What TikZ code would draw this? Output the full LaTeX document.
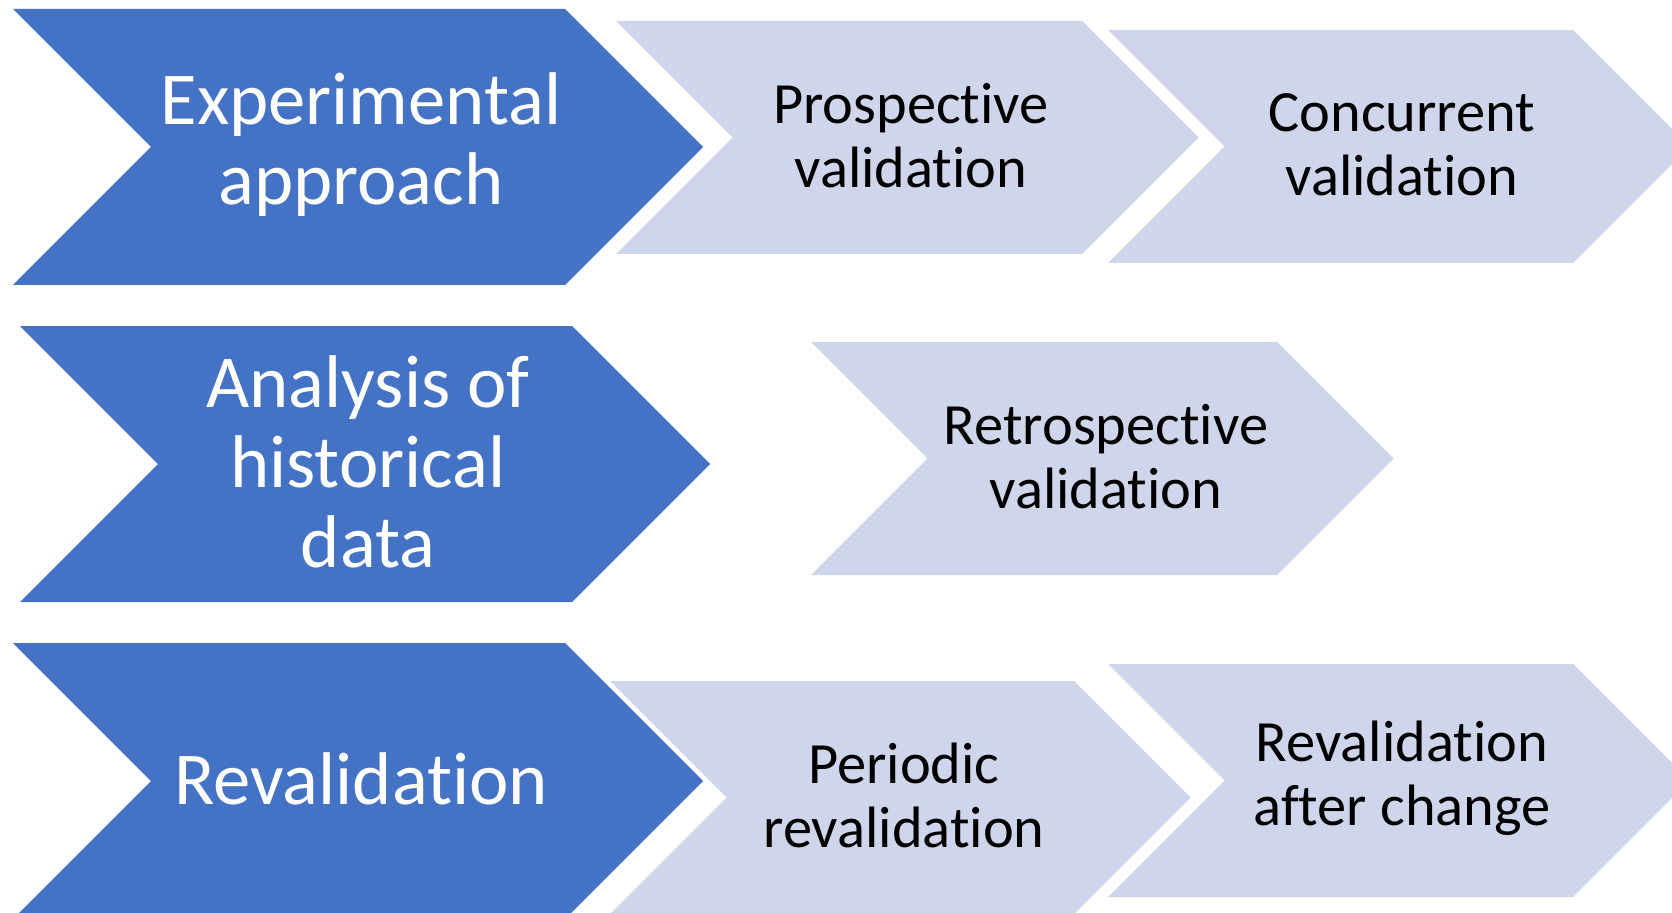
\documentclass[tikz,border=0pt]{standalone}
\usepackage{fontspec}
\setmainfont{Carlito}[Ligatures=NoCommon]
\definecolor{darkblue}{HTML}{4472C4}
\definecolor{lightblue}{HTML}{CFD5EA}
\tikzset{
  darkchev/.style={fill=darkblue},
  lightchev/.style={fill=lightblue},
  darktext/.style={text=white, align=center, inner sep=0pt, font=\fontsize{56}{60}\selectfont},
  lighttext/.style={text=black, align=center, inner sep=0pt, font=\fontsize{43.8}{48}\selectfont},
}
% #1 style, #2 left x, #3 top y, #4 top-right x, #5 half height
\newcommand{\chevpath}[5]{%
  \fill[#1] (#2,#3) -- (#4,#3) -- ({#4+#5},{#3+#5}) -- (#4,{#3+2*#5}) -- (#2,{#3+2*#5}) -- ({#2+#5},{#3+#5}) -- cycle;}
\begin{document}
\begin{tikzpicture}[x=0.75pt, y=-0.75pt]
\useasboundingbox (0,0) rectangle (1672,913);
\clip (0,0) rectangle (1672,913);
\fill[white] (0,0) rectangle (1672,913);
% row 1
\chevpath{lightchev}{616}{21}{1082}{116.5}
\chevpath{lightchev}{1108}{30}{1573}{116.5}
\chevpath{darkchev}{13}{9}{565}{138}
\node[darktext] (exp) at (361,145) {Experimental\\approach};
\node[lighttext] (pro) at (911,135.5) {Prospective\\validation};
\node[lighttext] (con) at (1402,144.5) {Concurrent\\validation};
% row 2
\chevpath{lightchev}{811}{342}{1277}{116.5}
\chevpath{darkchev}{20}{326}{572}{138}
\node[darktext] (ana) at (368,462) {Analysis of\\historical\\data};
\node[lighttext] (ret) at (1106,456.5) {Retrospective\\validation};
% row 3
\chevpath{lightchev}{610}{681}{1074}{116.5}
\chevpath{lightchev}{1108}{664}{1573}{116.5}
\chevpath{darkchev}{13}{643}{565}{138}
\node[darktext] (rev) at (361,779) {Revalidation};
\node[lighttext] (per) at (904,795.5) {Periodic\\revalidation};
\node[lighttext] (rac) at (1402,778.5) {Revalidation\\after change};
\end{tikzpicture}
\end{document}
